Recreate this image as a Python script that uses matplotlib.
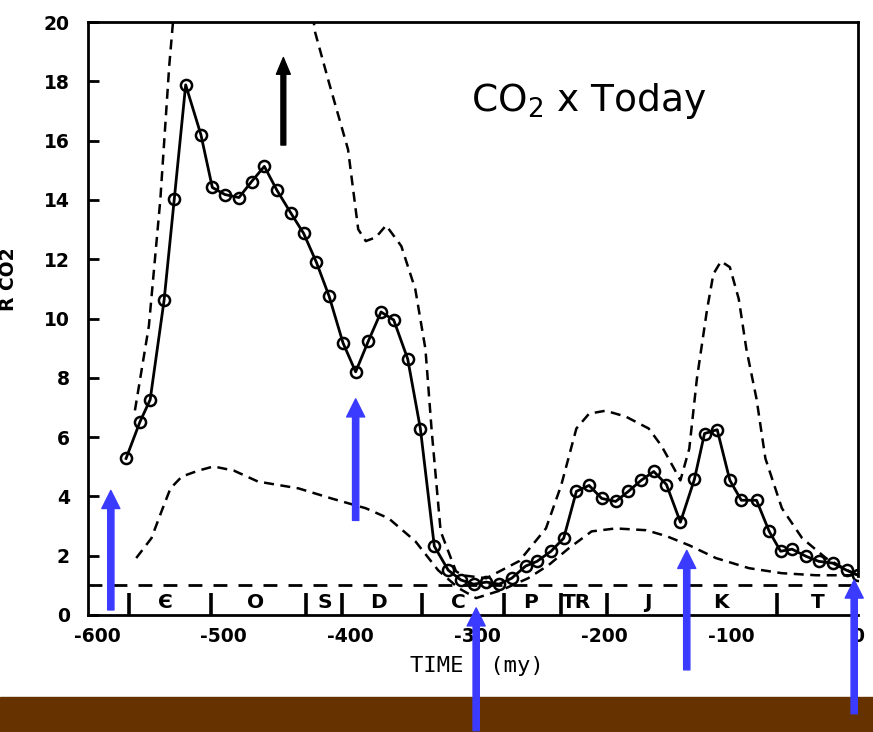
import matplotlib
matplotlib.use("Agg")
import matplotlib.pyplot as plt
from matplotlib.patches import Rectangle

plt.rcParams["font.family"] = ["DejaVu Sans"]
plt.rcParams["axes.unicode_minus"] = False

# best-guess CO2 curve (circles)
co2_time = [-577, -566, -558, -547, -539, -530, -518, -509, -499, -488,
            -478, -468, -458, -447, -437, -427, -417, -406, -396, -386,
            -376, -366, -355, -345, -334, -323, -313, -303, -293, -283,
            -273, -262, -253, -242, -232, -222, -212, -202, -191, -181,
            -171, -161, -151, -140, -129, -121, -111, -101, -92, -80,
            -70, -61, -52, -41, -31, -20, -9, 0]
co2_ratio = [5.28, 6.52, 7.26, 10.62, 14.02, 17.88, 16.20, 14.42, 14.18, 14.08,
             14.62, 15.13, 14.32, 13.55, 12.87, 11.90, 10.76, 9.18, 8.20, 9.24,
             10.22, 9.95, 8.64, 6.29, 2.32, 1.51, 1.18, 1.04, 1.11, 1.04,
             1.24, 1.65, 1.81, 2.15, 2.59, 4.17, 4.37, 3.93, 3.83, 4.17,
             4.54, 4.84, 4.40, 3.13, 4.57, 6.12, 6.25, 4.54, 3.87, 3.87,
             2.82, 2.15, 2.22, 1.98, 1.81, 1.75, 1.51, 1.34]

# upper error envelope, early branch (runs off the top)
upper_a_time = [-570, -559, -550, -543, -540, -538]
upper_a_ratio = [6.9, 9.75, 14.0, 18.5, 20.0, 21.0]

# upper error envelope, later branch
upper_b_time = [-432, -428, -417, -402, -394, -388, -380, -372, -360, -349,
                -341, -336, -329, -317, -312, -293, -267, -246, -234, -222,
                -212, -199, -183, -165, -155, -145, -140, -133, -127, -119,
                -114, -108, -101, -94, -88, -80, -73, -60, -44, -25, -7, 0]
upper_b_ratio = [21.0, 19.66, 17.95, 15.70, 13.01, 12.61, 12.74, 13.14, 12.44, 10.99,
                 8.97, 6.18, 2.82, 1.48, 1.34, 1.24, 1.82, 2.92, 4.37, 6.29,
                 6.79, 6.89, 6.69, 6.29, 5.71, 4.94, 4.54, 5.61, 7.97, 10.3,
                 11.5, 11.93, 11.73, 10.66, 8.97, 7.29, 5.28, 3.60, 2.59, 1.91, 1.48, 1.34]

# lower error envelope
lower_time = [-569, -557, -549, -542, -533, -520, -508, -492, -473, -441,
              -415, -388, -370, -349, -331, -315, -301, -281, -260, -244,
              -228, -210, -191, -167, -151, -133, -112, -86, -60, -33, -1]
lower_ratio = [1.92, 2.59, 3.50, 4.27, 4.67, 4.87, 5.01, 4.87, 4.50, 4.27,
               3.93, 3.60, 3.26, 2.49, 1.51, 0.91, 0.57, 0.84, 1.24, 1.68,
               2.25, 2.82, 2.92, 2.86, 2.66, 2.35, 1.92, 1.58, 1.41, 1.34, 1.34]

today_level = 1.0

period_bounds = [-575, -510, -435, -407, -344, -279, -234, -198, -135, -64]
period_names = ["Є", "O", "S", "D", "C", "P", "TR", "J", "K", "T"]
period_mid = [-546, -475, -420, -378, -315, -258, -222, -166, -108, -32]

# blue pointer arrows: (time, tail, tip)
blue_time = [-589, -396, -301, -135, -3]
blue_tail = [0.17, 3.19, -3.9, -1.85, -3.33]
blue_tip = [4.2, 7.29, 0.24, 2.18, 1.18]


def main() -> None:
    fig = plt.figure(figsize=(8.73, 7.32), dpi=100)
    ax = fig.add_axes([88 / 873, 117 / 732, 770 / 873, 593 / 732])

    ax.plot(co2_time, co2_ratio, color="black", lw=2, marker="o", ms=8,
            mfc="none", mec="black", mew=1.8, zorder=4)
    for t, r in [(upper_a_time, upper_a_ratio), (upper_b_time, upper_b_ratio),
                 (lower_time, lower_ratio)]:
        ax.plot(t, r, color="black", lw=1.8, dashes=(4, 2.6), zorder=3)
    ax.plot([-607, 0], [today_level, today_level], color="black", lw=2,
            dashes=(5, 4), zorder=3)

    ax.vlines(period_bounds, 0, 0.75, color="black", lw=2.6)
    for t, name in zip(period_mid, period_names):
        ax.text(t, 0.42, name, ha="center", va="center", fontsize=14.5,
                fontweight="bold")

    ax.annotate("", xy=(-453, 18.8), xytext=(-453, 15.85),
                arrowprops=dict(color="black", width=3.5, headwidth=10,
                                headlength=12, shrink=0))

    ax.text(-305, 17.0, "CO$_2$ x Today", fontsize=27, ha="left",
            va="baseline")

    ax.set_xlim(-607, 0)
    ax.set_ylim(0, 20)
    ax.set_xticks(range(-600, 1, 100))
    ax.set_yticks(range(0, 21, 2))
    ax.tick_params(axis="x", length=0, pad=9, labelsize=13.5)
    ax.tick_params(axis="y", direction="in", length=8, width=2, pad=13,
                   labelsize=13.5)
    for lab in ax.get_xticklabels() + ax.get_yticklabels():
        lab.set_fontweight("bold")
    for side in ["left", "bottom", "top", "right"]:
        ax.spines[side].set_linewidth(2)
    ax.spines["right"].set_bounds(1.3, 20)

    ax.set_xlabel("TIME  (my)", family="DejaVu Sans Mono", fontsize=16)
    ax.xaxis.set_label_coords(0.505, -0.069)
    ax.set_ylabel("R CO2", fontsize=13.5, fontweight="bold")
    ax.yaxis.set_label_coords(-0.091, 0.567)

    ax.add_patch(Rectangle((0, 0), 1, 35 / 732, transform=fig.transFigure,
                           color="#663300", clip_on=False, zorder=5))

    for t, tail, tip in zip(blue_time, blue_tail, blue_tip):
        ax.annotate("", xy=(t, tip), xytext=(t, tail), annotation_clip=False,
                    arrowprops=dict(color="#3b3bff", width=4.5, headwidth=13,
                                    headlength=13, shrink=0), zorder=6)

    fig.savefig("out.png", dpi=100)
    plt.close(fig)


if __name__ == "__main__":
    main()
